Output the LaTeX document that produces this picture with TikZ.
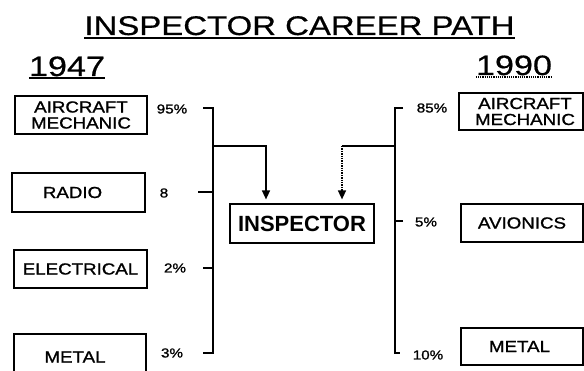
\documentclass[tikz,border=0pt]{standalone}
\usepackage{fontspec}
\setmainfont{Liberation Sans}
\newfontfamily\wide[FakeStretch=1.17,FakeBold=1.2]{Liberation Sans}
\newfontfamily\widetitle[FakeStretch=1.22,FakeBold=0.6]{Liberation Sans}
\usetikzlibrary{arrows.meta}
\begin{document}
\begin{tikzpicture}[x=1pt,y=-1pt,
  box/.style={draw,line width=1.2pt,inner sep=0pt,align=center},
  lbl/.style={font=\wide\fontsize{16}{16}\selectfont},
  pct/.style={font=\wide\fontsize{13}{14}\selectfont,inner sep=0pt},
  yr/.style={font=\widetitle\fontsize{28}{28}\selectfont,inner sep=0pt,anchor=base},
  ln/.style={line width=1.4pt},
  arr/.style={ln,-{Triangle[width=8pt,length=9pt]},shorten >=4pt}]
\useasboundingbox (0,0) rectangle (584,371);
\clip (0,0) rectangle (584,371);

% title and years
\node[font=\widetitle\fontsize{27}{27}\selectfont,inner sep=0pt,anchor=base] (title) at (299.5,35) {INSPECTOR CAREER PATH};
\draw[line width=1.4pt] ([yshift=-3pt]title.base west) -- ([yshift=-3pt]title.base east);
\node[yr] (y47) at (67,76) {1947};
\draw[line width=1.4pt] ([yshift=-2pt]y47.base west) -- ([yshift=-2pt]y47.base east);
\node[yr] (y90) at (514,75) {1990};
\draw[line width=1.2pt,densely dotted] ([yshift=-2pt]y90.base west) -- ([yshift=-2pt]y90.base east);

% left boxes
\node[box,lbl,minimum width=132pt,minimum height=38pt] (la) at (81,115) {AIRCRAFT\\MECHANIC};
\node[box,lbl,minimum width=133pt,minimum height=39pt] (lr) at (78.5,192.5) {RADIO\hspace*{12pt}};
\node[box,lbl,minimum width=133pt,minimum height=38pt] (le) at (80.5,269) {ELECTRICAL};
\node[box,lbl,minimum width=132pt,minimum height=46pt] (lm) at (80,357) {METAL\hspace*{10pt}};

% centre box
\node[box,font=\bfseries\fontsize{22}{22}\selectfont,minimum width=144pt,minimum height=39pt] (insp) at (302,223.5) {INSPECTOR};

% right boxes
\node[box,lbl,minimum width=124pt,minimum height=37pt] (ra) at (521,111.5) {\hspace*{8pt}AIRCRAFT\\\hspace*{8pt}MECHANIC};
\node[box,lbl,minimum width=122pt,minimum height=38pt] (rv) at (522,223) {AVIONICS};
\node[box,lbl,minimum width=122pt,minimum height=37pt] (rm) at (522,346.5) {METAL\hspace*{5pt}};

% percentages
\node[pct] (p95) at (172,109) {95\%};
\node[pct] (p8)  at (164,193) {8};
\node[pct] (p2)  at (175,268) {2\%};
\node[pct] (p3)  at (172,353) {3\%};
\node[pct] (p85) at (432,108) {85\%};
\node[pct] (p5)  at (426,222) {5\%};
\node[pct] (p10) at (428,355) {10\%};

% left bracket
\coordinate (lt1) at (203,108); \coordinate (lc1) at (213,108);
\coordinate (lt2) at (198,192); \coordinate (lc2) at (213,192);
\coordinate (lt3) at (203,268); \coordinate (lc3) at (213,268);
\coordinate (lt4) at (203,353); \coordinate (lc4) at (213,353);
\coordinate (lmid) at (213,146); \coordinate (lk) at (266,146);
\coordinate (ltip) at (insp.north -| lk);
\draw[ln] (lt1) -- (lc1) -- (lc4) -- (lt4);
\draw[ln] (lt2) -- (lc2);
\draw[ln] (lt3) -- (lc3);
\draw[arr] (lmid) -| (ltip);

% right bracket
\coordinate (rt1) at (403,108); \coordinate (rc1) at (395,108);
\coordinate (rt2) at (403,221); \coordinate (rc2) at (395,221);
\coordinate (rt3) at (400,353); \coordinate (rc3) at (395,353);
\coordinate (rmid) at (395,146); \coordinate (rk) at (342,146);
\coordinate (rtip) at (insp.north -| rk);
\draw[ln] (rt1) -- (rc1) -- (rc3) -- (rt3);
\draw[ln] (rt2) -- (rc2);
\draw[ln] (rmid) -- (rk);
\draw[arr,densely dotted] (rk) -- (rtip);
\end{tikzpicture}
\end{document}
